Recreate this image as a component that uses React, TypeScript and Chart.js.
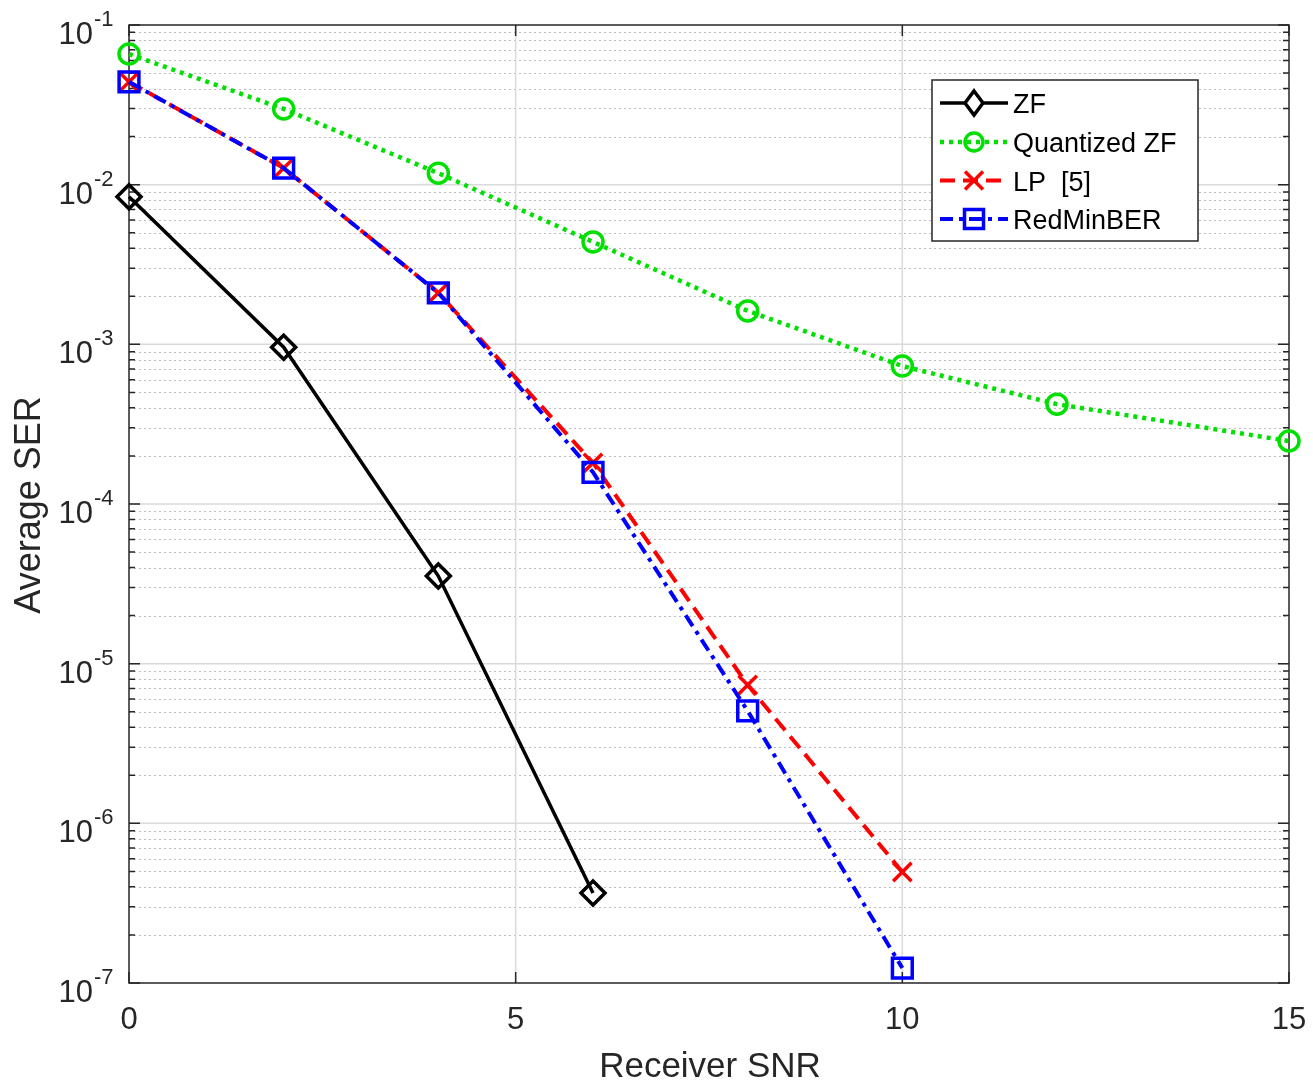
import React, { useEffect, useRef } from 'react';
import { Chart, registerables } from 'chart.js';

Chart.register(...registerables);

// ---- data ----
const snrZF = [0, 2, 4, 6];
const serZF = [8.4e-3, 9.6e-4, 3.54e-5, 3.66e-7];

const snrQZF = [0, 2, 4, 6, 8, 10, 12, 15];
const serQZF = [0.0658, 0.0298, 0.0118, 4.38e-3, 1.62e-3, 7.31e-4, 4.22e-4, 2.48e-4];

const snrLP = [0, 2, 4, 6, 8, 10];
const serLP = [0.044, 0.0127, 2.1e-3, 1.81e-4, 7.35e-6, 4.96e-7];

const snrRMB = [0, 2, 4, 6, 8, 10];
const serRMB = [0.044, 0.0127, 2.1e-3, 1.58e-4, 5.06e-6, 1.24e-7];

const xTicks = [0, 5, 10, 15];
const yDecadeExps = [-7, -6, -5, -4, -3, -2, -1];

const seriesLabels = ['ZF', 'Quantized ZF', 'LP  [5]', 'RedMinBER'];

const FONT = '"Liberation Sans", Arial, sans-serif';
const AXIS_COLOR = '#262626';

function toPoints(xs: number[], ys: number[]) {
  return xs.map((x, i) => ({ x, y: ys[i] }));
}

function drawMarker(ctx: CanvasRenderingContext2D, style: string, x: number, y: number, color: string) {
  ctx.save();
  ctx.setLineDash([]);
  ctx.strokeStyle = color;
  ctx.lineWidth = 3.5;
  ctx.beginPath();
  if (style === 'diamond') {
    ctx.moveTo(x, y - 12);
    ctx.lineTo(x + 9, y);
    ctx.lineTo(x, y + 12);
    ctx.lineTo(x - 9, y);
    ctx.closePath();
    ctx.fillStyle = '#ffffff';
    ctx.fill();
  } else if (style === 'circle') {
    ctx.arc(x, y, 9, 0, Math.PI * 2);
  } else if (style === 'x') {
    ctx.moveTo(x - 9, y - 9);
    ctx.lineTo(x + 9, y + 9);
    ctx.moveTo(x + 9, y - 9);
    ctx.lineTo(x - 9, y + 9);
  } else if (style === 'square') {
    ctx.rect(x - 9.5, y - 9.5, 19, 19);
  }
  ctx.stroke();
  ctx.restore();
}

const seriesStyles = [
  { color: '#000000', dash: [] as number[], marker: 'diamond', width: 3.5 },
  { color: '#00e000', dash: [4, 5], marker: 'circle', width: 4.5 },
  { color: '#ff0000', dash: [15, 8], marker: 'x', width: 4 },
  { color: '#0000ff', dash: [13, 6, 4, 6], marker: 'square', width: 4 },
];

const axesPlugin = {
  id: 'matlabAxes',
  beforeDatasetsDraw(chart: any) {
    const { ctx, chartArea, scales } = chart;
    const { left, right, top, bottom } = chartArea;
    const x = scales.x;
    const y = scales.y;
    ctx.save();
    // minor y grid (dotted)
    ctx.strokeStyle = '#bdbdbd';
    ctx.lineWidth = 1;
    ctx.setLineDash([2, 3]);
    for (const e of yDecadeExps) {
      if (e === -1) continue;
      for (let m = 2; m <= 9; m++) {
        const v = m * Math.pow(10, e);
        const py = Math.round(y.getPixelForValue(v)) + 0.5;
        ctx.beginPath();
        ctx.moveTo(left, py);
        ctx.lineTo(right, py);
        ctx.stroke();
      }
    }
    // major grid
    ctx.setLineDash([]);
    ctx.strokeStyle = '#dadada';
    ctx.lineWidth = 1.5;
    for (const e of yDecadeExps) {
      const py = y.getPixelForValue(Math.pow(10, e));
      if (py <= top + 1 || py >= bottom - 1) continue;
      ctx.beginPath();
      ctx.moveTo(left, py);
      ctx.lineTo(right, py);
      ctx.stroke();
    }
    for (const t of xTicks) {
      const px = x.getPixelForValue(t);
      if (px <= left + 1 || px >= right - 1) continue;
      ctx.beginPath();
      ctx.moveTo(px, top);
      ctx.lineTo(px, bottom);
      ctx.stroke();
    }
    // box
    ctx.strokeStyle = AXIS_COLOR;
    ctx.lineWidth = 1.5;
    ctx.strokeRect(left, top, right - left, bottom - top);
    // ticks
    ctx.beginPath();
    for (const e of yDecadeExps) {
      const py = y.getPixelForValue(Math.pow(10, e));
      ctx.moveTo(left, py); ctx.lineTo(left + 11, py);
      ctx.moveTo(right, py); ctx.lineTo(right - 11, py);
      if (e === -1) continue;
      for (let m = 2; m <= 9; m++) {
        const pm = y.getPixelForValue(m * Math.pow(10, e));
        ctx.moveTo(left, pm); ctx.lineTo(left + 6, pm);
        ctx.moveTo(right, pm); ctx.lineTo(right - 6, pm);
      }
    }
    for (const t of xTicks) {
      const px = x.getPixelForValue(t);
      ctx.moveTo(px, bottom); ctx.lineTo(px, bottom - 11);
      ctx.moveTo(px, top); ctx.lineTo(px, top + 11);
    }
    ctx.stroke();
    // tick labels
    ctx.fillStyle = AXIS_COLOR;
    for (const e of yDecadeExps) {
      const py = y.getPixelForValue(Math.pow(10, e));
      ctx.font = `31px ${FONT}`;
      ctx.textAlign = 'right';
      ctx.textBaseline = 'alphabetic';
      ctx.fillText('10', left - 36, py + 19);
      ctx.font = `22px ${FONT}`;
      ctx.textAlign = 'left';
      ctx.fillText(String(e), left - 35, py + 1);
    }
    ctx.font = `31px ${FONT}`;
    ctx.textAlign = 'center';
    for (const t of xTicks) {
      const px = x.getPixelForValue(t);
      ctx.fillText(String(t), px, bottom + 46);
    }
    // titles
    ctx.font = `35px ${FONT}`;
    ctx.fillText('Receiver SNR', 710, bottom + 94);
    ctx.save();
    ctx.translate(40, 505);
    ctx.rotate(-Math.PI / 2);
    ctx.textAlign = 'center';
    ctx.font = `36px ${FONT}`;
    ctx.fillText('Average SER', 0, 0);
    ctx.restore();
    ctx.restore();
  },
  afterDraw(chart: any) {
    const { ctx } = chart;
    ctx.save();
    const bx = 932, by = 80, bw = 266, bh = 161;
    ctx.fillStyle = '#ffffff';
    ctx.fillRect(bx, by, bw, bh);
    ctx.strokeStyle = AXIS_COLOR;
    ctx.lineWidth = 1.5;
    ctx.setLineDash([]);
    ctx.strokeRect(bx, by, bw, bh);
    const rows = [103, 142, 180.5, 219];
    seriesLabels.forEach((lab, i) => {
      const st = seriesStyles[i];
      const ry = rows[i];
      ctx.save();
      ctx.strokeStyle = st.color;
      ctx.lineWidth = st.width;
      ctx.setLineDash(st.dash);
      ctx.beginPath();
      ctx.moveTo(940, ry);
      ctx.lineTo(1008, ry);
      ctx.stroke();
      ctx.restore();
      drawMarker(ctx, st.marker, 974, ry, st.color);
      ctx.fillStyle = '#000000';
      ctx.font = `27px ${FONT}`;
      ctx.textAlign = 'left';
      ctx.textBaseline = 'alphabetic';
      ctx.fillText(lab, 1013, ry + 10);
    });
    ctx.restore();
  },
};

export default function App() {
  const canvasRef = useRef<HTMLCanvasElement | null>(null);

  useEffect(() => {
    const canvas = canvasRef.current;
    if (!canvas) return;
    const mk = (label: string, xs: number[], ys: number[], i: number, pointStyle: any, radius: number) => ({
      label,
      data: toPoints(xs, ys),
      borderColor: seriesStyles[i].color,
      backgroundColor: 'rgba(0,0,0,0)',
      borderWidth: seriesStyles[i].width,
      borderDash: seriesStyles[i].dash,
      pointStyle,
      pointRadius: radius,
      pointBorderWidth: 3.5,
      pointBorderColor: seriesStyles[i].color,
      pointBackgroundColor: 'rgba(0,0,0,0)',
      pointHoverRadius: radius,
      tension: 0,
      fill: false,
      clip: false as any,
    });
    const chart = new Chart(canvas, {
      type: 'line',
      data: {
        datasets: [
          mk(seriesLabels[3], snrRMB, serRMB, 3, 'rect', 14),
          mk(seriesLabels[2], snrLP, serLP, 2, 'crossRot', 13),
          mk(seriesLabels[1], snrQZF, serQZF, 1, 'circle', 10),
          mk(seriesLabels[0], snrZF, serZF, 0, 'rectRot', 12),
        ],
      },
      options: {
        animation: false,
        responsive: false,
        events: [],
        layout: { padding: { left: 129, right: 24, top: 25, bottom: 98 } },
        plugins: { legend: { display: false }, tooltip: { enabled: false } },
        scales: {
          x: { type: 'linear', min: 0, max: 15, display: false },
          y: { type: 'logarithmic', min: 1e-7, max: 1e-1, display: false },
        },
      },
      plugins: [axesPlugin],
    });
    return () => chart.destroy();
  }, []);

  return (
    <div style={{ position: 'absolute', left: 0, top: 0, width: 1313, height: 1081, background: '#ffffff' }}>
      <canvas ref={canvasRef} width={1313} height={1081} style={{ display: 'block' }} />
    </div>
  );
}
